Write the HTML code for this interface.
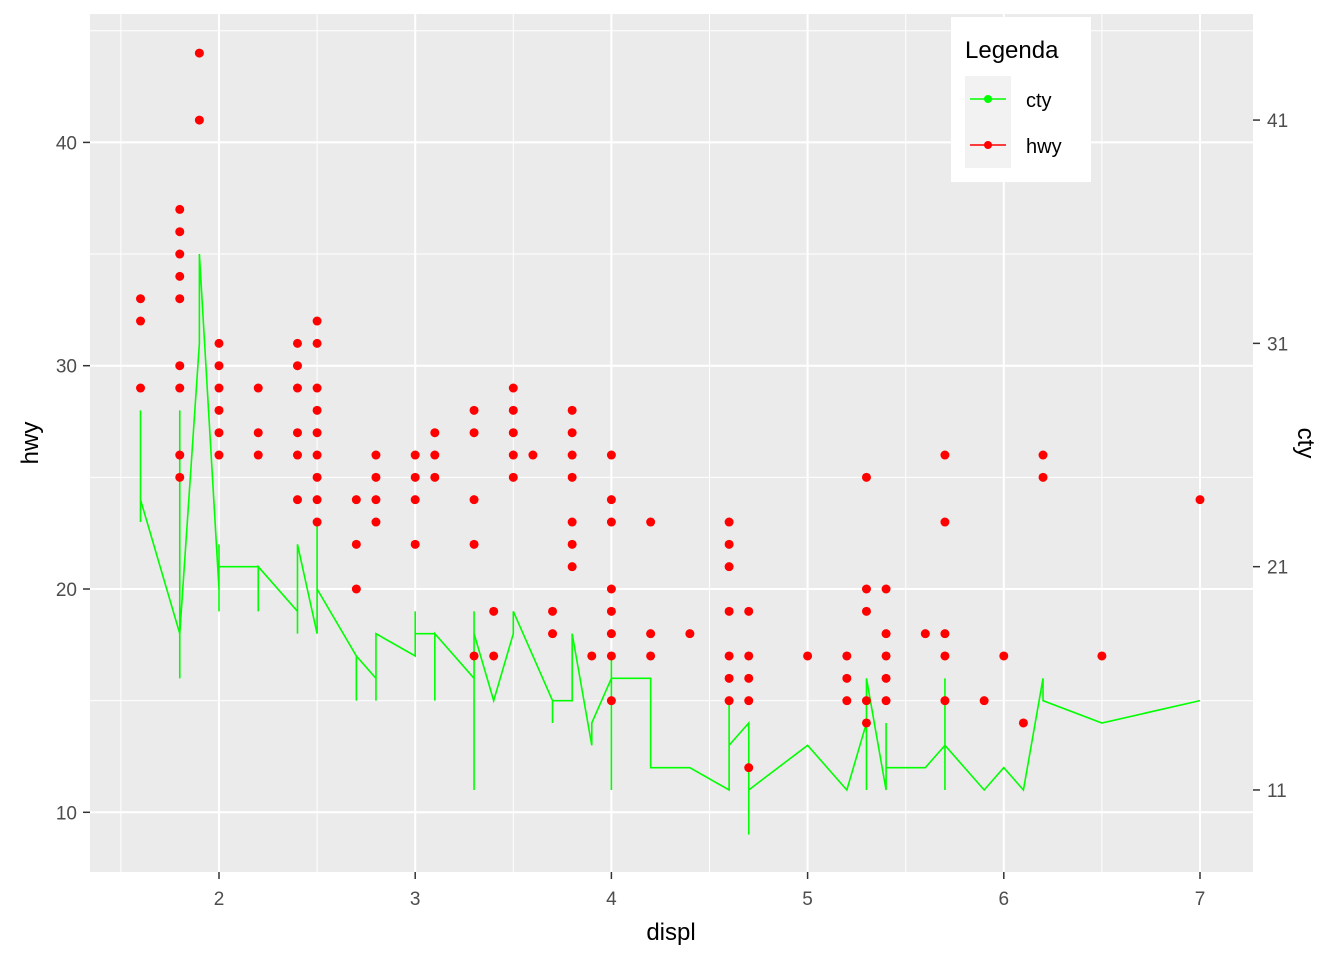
<!DOCTYPE html>
<html><head><meta charset="utf-8"><style>
body{margin:0;background:#fff;font-family:"Liberation Sans",Arial,sans-serif}
svg text{font-family:"Liberation Sans",Arial,sans-serif}
</style></head><body>
<svg id="chart" width="1344" height="960" xmlns="http://www.w3.org/2000/svg">
<rect x="0" y="0" width="1344" height="960" fill="#fff"/>
<rect x="90" y="14" width="1163" height="858" fill="#ebebeb"/>
<g id="grid"></g>
<g id="line"></g>
<g id="points"></g>
<g id="axes"></g>
<text x="671" y="940" font-size="24" text-anchor="middle" fill="#000">displ</text>
<text transform="translate(38,443) rotate(-90)" font-size="24" text-anchor="middle" fill="#000">hwy</text>
<text transform="translate(1298,443) rotate(90)" font-size="24" text-anchor="middle" fill="#000">cty</text>
<g>
<rect x="951" y="17" width="140" height="165" fill="#fff"/>
<text x="965" y="58" font-size="24" fill="#000">Legenda</text>
<rect x="965" y="76" width="46" height="46" fill="#f2f2f2"/>
<rect x="965" y="122" width="46" height="46" fill="#f2f2f2"/>
<g>
<line x1="970" y1="99" x2="1006" y2="99" stroke="#00ff00" stroke-width="1.5"/>
<circle cx="988" cy="99" r="4" fill="#00ff00"/>
<text x="1026" y="107" font-size="20" fill="#000">cty</text></g>
<g>
<line x1="970" y1="145" x2="1006" y2="145" stroke="#ff0000" stroke-width="1.5"/>
<circle cx="988" cy="145" r="4" fill="#ff0000"/>
<text x="1026" y="153" font-size="20" fill="#000">hwy</text></g>
</g>
</svg>
<script>
const xTicks=[2,3,4,5,6,7];
const xMinor=[1.5,2.5,3.5,4.5,5.5,6.5];
const yTicks=[10,20,30,40];
const yMinor=[15,25,35,45];
const y2Ticks=[11,21,31,41];
const hwyDispl=[1.6,1.8,1.9,2.0,2.2,2.4,2.5,2.7,2.8,3.0,3.1,3.3,3.4,3.5,3.6,3.7,3.8,3.9,4.0,4.2,4.4,4.6,4.7,5.0,5.2,5.3,5.4,5.6,5.7,5.9,6.0,6.1,6.2,6.5,7.0];
const hwyValues=[[33,32,29],[37,36,35,34,33,30,29,26,25],[44,41],[31,30,29,28,27,26],[29,27,26],[31,30,29,27,26,24],[32,31,29,28,27,26,25,24,23],[24,22,20],[26,25,24,23],[26,25,24,22],[27,26,25],[28,27,24,22,17],[19,17],[29,28,27,26,25],[26],[19,18],[28,27,26,25,23,22,21],[17],[26,24,23,20,19,18,17,15],[23,18,17],[18],[23,22,21,19,17,16,15],[19,17,16,15,12],[17],[17,16,15],[25,20,19,15,14],[20,18,17,16,15],[18],[26,23,18,17,15],[15],[17],[14],[26,25],[17],[24]];
const ctyDispl=[1.6,1.6,1.6,1.8,1.8,1.8,1.8,1.9,1.9,2.0,2.0,2.0,2.0,2.2,2.2,2.2,2.4,2.4,2.4,2.5,2.5,2.5,2.7,2.7,2.7,2.8,2.8,2.8,3.0,3.0,3.0,3.1,3.1,3.1,3.3,3.3,3.3,3.3,3.4,3.5,3.5,3.7,3.7,3.7,3.8,3.8,3.9,3.9,4.0,4.0,4.0,4.0,4.2,4.2,4.4,4.6,4.6,4.6,4.7,4.7,4.7,5.0,5.2,5.3,5.3,5.3,5.4,5.4,5.4,5.6,5.7,5.7,5.7,5.7,5.9,6.0,6.1,6.2,6.2,6.5,7.0];
const ctyValues=[28,23,24,18,28,16,18,31,35,20,22,19,21,21,19,21,19,18,22,18,23,20,17,15,17,16,15,18,17,19,18,18,15,18,16,11,19,18,15,18,19,15,14,15,15,18,13,14,16,17,11,16,16,12,12,11,15,13,14,9,11,13,11,14,11,16,11,14,12,12,13,11,16,13,11,12,11,16,15,14,15];
const NS='http://www.w3.org/2000/svg';
const X=d=>219+(d-2)*196.2;
const Y=v=>589-(v-20)*22.33;
function mk(t,a,p){const e=document.createElementNS(NS,t);for(const k in a)e.setAttribute(k,a[k]);p.appendChild(e);return e;}
const grid=document.getElementById('grid');
xMinor.forEach(d=>{const e=mk('line',{x1:X(d),x2:X(d),y1:14,y2:872,stroke:'#fff','stroke-width':1},grid);

});
yMinor.forEach(v=>{const e=mk('line',{x1:90,x2:1253,y1:Y(v),y2:Y(v),stroke:'#fff','stroke-width':1},grid);

});
xTicks.forEach(d=>{const e=mk('line',{x1:X(d),x2:X(d),y1:14,y2:872,stroke:'#fff','stroke-width':2},grid);

});
yTicks.forEach(v=>{const e=mk('line',{x1:90,x2:1253,y1:Y(v),y2:Y(v),stroke:'#fff','stroke-width':2},grid);

});
const axes=document.getElementById('axes');
xTicks.forEach(d=>{mk('line',{x1:X(d),x2:X(d),y1:872,y2:879,stroke:'#333','stroke-width':1.5},axes);
const t=mk('text',{x:X(d),y:905,'font-size':19,'text-anchor':'middle',fill:'#4d4d4d'},axes);t.textContent=d;

});
yTicks.forEach(v=>{mk('line',{x1:83,x2:90,y1:Y(v),y2:Y(v),stroke:'#333','stroke-width':1.5},axes);
const t=mk('text',{x:77,y:Y(v)+7,'font-size':19,'text-anchor':'end',fill:'#4d4d4d'},axes);t.textContent=v;

});
y2Ticks.forEach(v=>{mk('line',{x1:1253,x2:1260,y1:Y(v),y2:Y(v),stroke:'#333','stroke-width':1.5},axes);
const t=mk('text',{x:1267,y:Y(v)+7,'font-size':19,'text-anchor':'start',fill:'#4d4d4d'},axes);t.textContent=v;

});
const lp=ctyDispl.map((d,i)=>X(d)+','+Y(ctyValues[i])).join(' ');
const pl=mk('polyline',{points:lp,fill:'none',stroke:'#00ff00','stroke-width':1.6},document.getElementById('line'));


const pg=document.getElementById('points');
hwyDispl.forEach((d,i)=>hwyValues[i].forEach(v=>{const c=mk('circle',{cx:X(d),cy:Y(v),r:4.5,fill:'#ff0000'},pg);

}));
</script>
</body></html>
